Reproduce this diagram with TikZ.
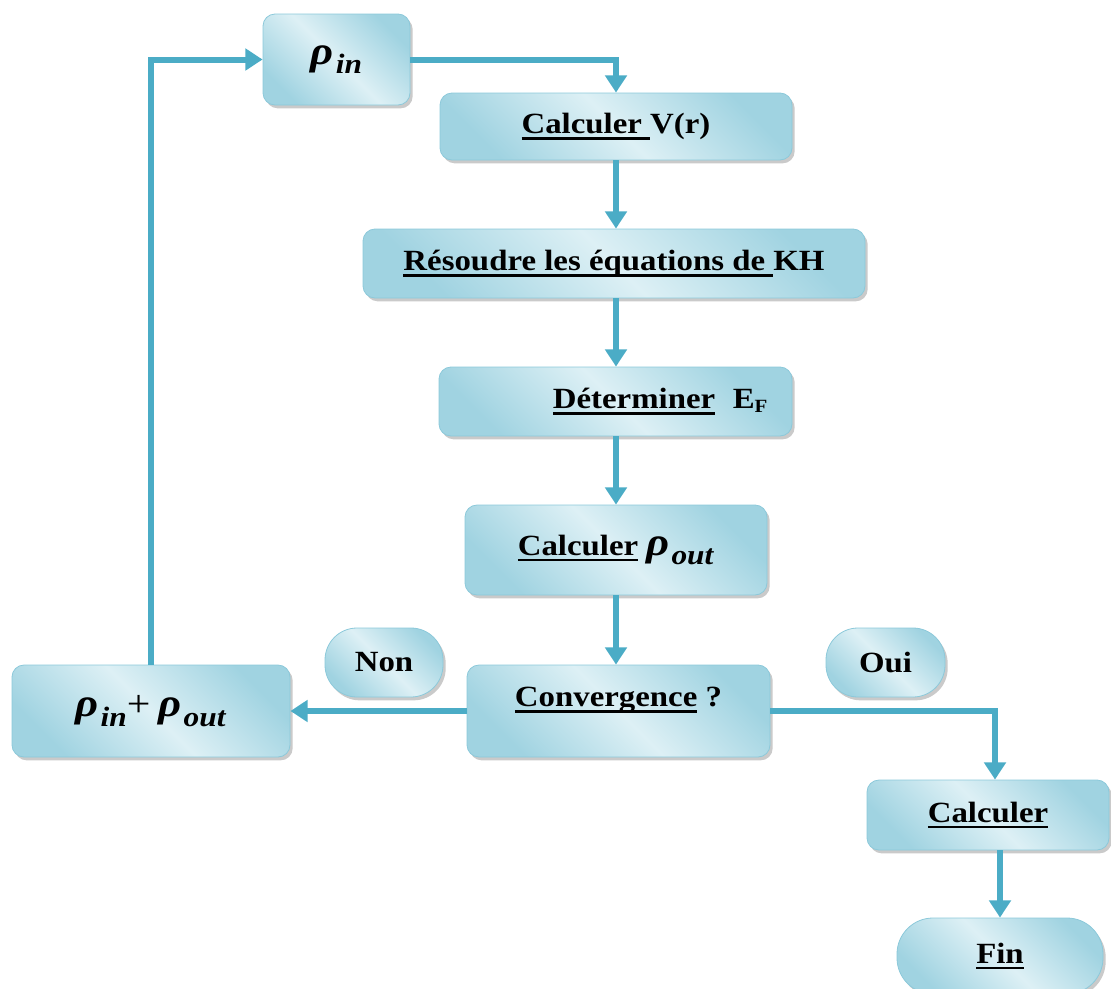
\documentclass[tikz,border=0pt]{standalone}
\usepackage{fontspec}
\setmainfont{Liberation Serif}[FakeStretch=1.12]
\usetikzlibrary{arrows.meta,shadows}
\definecolor{ln}{HTML}{4BACC6}
\definecolor{bxl}{HTML}{DDF0F5}
\definecolor{bxd}{HTML}{A0D3E1}
\definecolor{bxe}{HTML}{8CC9DA}
\newcommand\uln[1]{\setbox0\hbox{#1}\rlap{\rule[-4.5pt]{\wd0}{2pt}}\box0\relax}
\newcommand\rsub[1]{{\fontsize{30}{30}\selectfont\textbf{\textit{ρ}}}\kern1.5pt\raisebox{-7pt}{\fontsize{21}{21}\selectfont\textbf{\textit{#1}}}}
\tikzset{
  box/.style={draw=bxe, line width=0.6pt, rounded corners=9pt,
    top color=bxd, bottom color=bxd, middle color=bxl, shading angle=-45,
    drop shadow={shadow xshift=2pt, shadow yshift=-2.5pt, opacity=0.35, fill=black!60},
    font=\bfseries\fontsize{22}{26}\selectfont, inner sep=0pt},
  pill/.style={box, rounded corners=24pt},
  arr/.style={draw=ln, line width=4.5pt, -{Triangle[width=16pt,length=13pt]}}
}
\begin{document}
\begin{tikzpicture}[x=0.75pt,y=-0.75pt]
\useasboundingbox (0,0) rectangle (1111,989);
\node[box, minimum width=110.25pt, minimum height=68.25pt] (rin) at (336.5,59.5) {\rsub{in}};
\node[box, minimum width=264pt, minimum height=50.25pt] (vr) at (616,126.5) {\uln{Calculer\ }V(r)};
\node[box, minimum width=376.5pt, minimum height=51.75pt] (kh) at (614,263.5) {\uln{Résoudre les équations de\ }KH};
\node[box, minimum width=264.75pt, minimum height=51.75pt] (ef) at (615.5,401.5) {\hspace*{67pt}\uln{Déterminer}\hspace{0.6em}E\raisebox{-0.3ex}{\fontsize{14}{14}\selectfont F}};
\node[box, minimum width=226.5pt, minimum height=67.5pt] (rout) at (616,550) {\uln{Calculer}\ \rsub{out}};
\node[box, minimum width=227.25pt, minimum height=69pt] (conv) at (618.5,711) {\raisebox{21pt}{\uln{Convergence}\ ?}};
\node[box, minimum width=208.5pt, minimum height=69pt] (sum) at (151,711) {\rsub{in}{\mdseries\fontsize{28}{28}\selectfont +}\ \rsub{out}};
\node[pill, minimum width=88.5pt, minimum height=51.75pt] (non) at (384,662.5) {Non};
\node[pill, minimum width=89.25pt, minimum height=51.75pt] (oui) at (885.5,662.5) {Oui};
\node[box, minimum width=181.5pt, minimum height=52.5pt] (calc) at (988,815) {\uln{Calculer}};
\node[pill, rounded corners=27pt, minimum width=154.5pt, minimum height=57pt] (fin) at (1000,956) {\uln{Fin}};
\draw[arr] (rin.east) -| (vr.north);
\draw[arr] (vr.south) -- (vr.south |- kh.north);
\draw[arr] (kh.south -| vr.south) -- (vr.south |- ef.north);
\draw[arr] (ef.south -| vr.south) -- (vr.south |- rout.north);
\draw[arr] (rout.south -| vr.south) -- (vr.south |- conv.north);
\draw[arr] (conv.west) -- (sum.east);
\draw[arr] (conv.east) -| ([xshift=5.25pt]calc.north);
\draw[arr] (fin.north |- calc.south) -- (fin.north);
\draw[arr] (sum.north) |- (rin.west);
\end{tikzpicture}
\end{document}
